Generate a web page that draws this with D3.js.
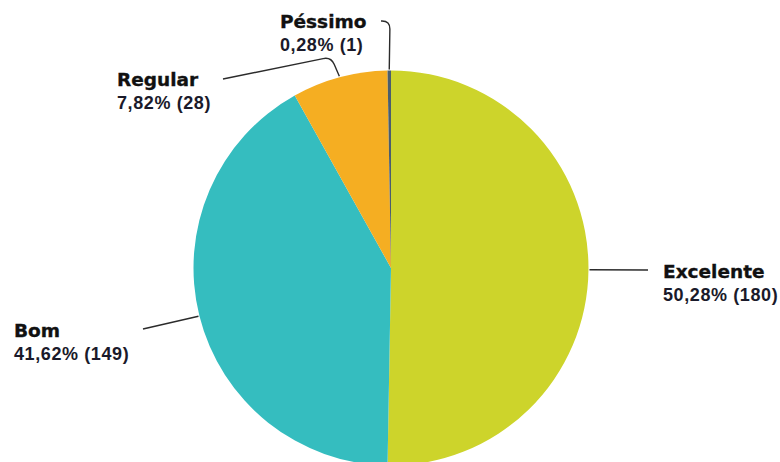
<!DOCTYPE html>
<html>
<head>
<meta charset="utf-8">
<script src="https://cdn.jsdelivr.net/npm/d3@7/dist/d3.min.js"></script>
<style>
  html, body { margin: 0; padding: 0; background: #ffffff; }
  svg { display: block; }
</style>
</head>
<body>
<svg id="chart" width="780" height="462"></svg>
<script>
// Avaliação: categorias e contagens de respostas
const categories = ["Excelente", "Bom", "Regular", "Péssimo"];
const counts = [180, 149, 28, 1];
const sliceColors = ["#cdd42b", "#35bdbf", "#f5ae22", "#4b5e6d"];

// Label placement: text anchor point and the elbow of each leader line
const labelPos = [
  { x: 663, y: 278, elbow: null },
  { x: 14,  y: 337, elbow: null },
  { x: 117, y: 86,  elbow: [331, 57] },
  { x: 280, y: 28,  elbow: [390, 21] }
];
const lineEnds = [
  [648, 270],
  [143, 329],
  [223, 79],
  [381, 21]
];

const width = 780, height = 462;
const cx = 391, cy = 268, radius = 197.5;

const svg = d3.select("#chart");
const g = svg.append("g").attr("transform", `translate(${cx},${cy})`);

const total = d3.sum(counts);
const fmtPct = v => d3.format(".2f")(v).replace(".", ",") + "%";

const pie = d3.pie().sort(null).value(d => d);
const arcs = pie(counts);
const arc = d3.arc().innerRadius(0).outerRadius(radius);

g.selectAll("path.slice")
  .data(arcs)
  .join("path")
  .attr("class", "slice")
  .attr("d", arc)
  .attr("fill", (d, i) => sliceColors[i]);

// Leader lines from the rim of each slice to its label
const rimPoint = (d, r) => {
  const a = (d.startAngle + d.endAngle) / 2;
  return [cx + r * Math.sin(a), cy - r * Math.cos(a)];
};

arcs.forEach((d, i) => {
  const p0 = rimPoint(d, radius + 1);
  const end = lineEnds[i];
  const p = d3.path();
  p.moveTo(p0[0], p0[1]);
  const elbow = labelPos[i].elbow;
  if (elbow) {
    // rounded corner at the elbow
    const t = 8;
    const v1 = [elbow[0] - p0[0], elbow[1] - p0[1]];
    const l1 = Math.hypot(v1[0], v1[1]);
    const a1 = [elbow[0] - v1[0] / l1 * t, elbow[1] - v1[1] / l1 * t];
    const v2 = [end[0] - elbow[0], end[1] - elbow[1]];
    const l2 = Math.hypot(v2[0], v2[1]);
    const b1 = [elbow[0] + v2[0] / l2 * t, elbow[1] + v2[1] / l2 * t];
    p.lineTo(a1[0], a1[1]);
    p.quadraticCurveTo(elbow[0], elbow[1], b1[0], b1[1]);
  }
  p.lineTo(end[0], end[1]);
  svg.append("path")
    .attr("d", p.toString())
    .attr("fill", "none")
    .attr("stroke", "#2b2b2b")
    .attr("stroke-width", 1.4);
});

// Labels: category name in bold, then percentage and count
const labels = svg.selectAll("g.label")
  .data(arcs)
  .join("g")
  .attr("class", "label")
  .attr("transform", (d, i) => `translate(${labelPos[i].x},${labelPos[i].y})`);

labels.append("text")
  .attr("x", 0).attr("y", 0)
  .attr("font-family", "'DejaVu Sans', sans-serif")
  .attr("font-weight", "bold")
  .attr("font-size", 18.5)
  .attr("fill", "#111")
  .attr("stroke", "#111")
  .attr("stroke-width", 0.35)
  .text((d, i) => categories[i]);

labels.append("text")
  .attr("x", 0).attr("y", 23)
  .attr("font-family", "'Liberation Sans', Arial, sans-serif")
  .attr("font-weight", "bold")
  .attr("font-size", 18)
  .attr("letter-spacing", 0.6)
  .attr("fill", "#1a1a2a")
  .text((d, i) => `${fmtPct(counts[i] / total * 100)} (${counts[i]})`);
</script>
</body>
</html>
